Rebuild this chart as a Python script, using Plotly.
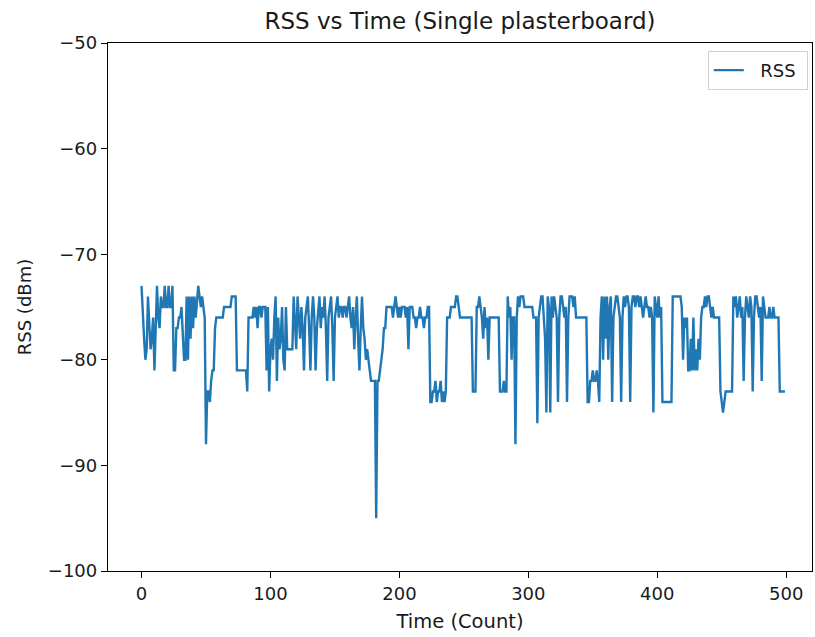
import plotly.graph_objects as go

rss = [
    -73, -76, -78, -80, -79, -74, -76, -79, -78, -76, -81, -76, -73, -76, -77, -74, -75, -75, -73, -75, -75, -73, -75, -75, -73,
    -81, -81, -77, -77, -76, -76, -75, -78, -80, -80, -74, -80, -74, -78, -74, -77, -74, -76, -74, -73, -74, -75, -74, -75, -76,
    -88, -83, -83, -84, -82, -81, -81, -77, -76, -76, -76, -76, -76, -76, -75, -75, -75, -75, -75, -75, -74, -74, -74, -74, -81,
    -81, -81, -81, -81, -81, -81, -81, -83, -76, -76, -76, -76, -75, -76, -75, -77, -75, -75, -76, -75, -75, -75, -81, -75, -83,
    -79, -78, -80, -76, -74, -82, -76, -79, -78, -75, -80, -81, -75, -79, -79, -79, -79, -79, -74, -76, -79, -74, -76, -78, -75,
    -77, -81, -76, -75, -74, -77, -81, -76, -74, -76, -81, -77, -75, -74, -77, -75, -76, -74, -77, -82, -76, -75, -74, -77, -82,
    -76, -75, -74, -76, -75, -75, -76, -75, -75, -76, -75, -74, -76, -77, -75, -79, -76, -74, -78, -81, -77, -74, -77, -78, -80,
    -79, -80, -81, -82, -82, -82, -82, -95, -82, -82, -81, -80, -79, -77, -77, -75, -75, -75, -75, -75, -76, -75, -74, -75, -76,
    -75, -76, -75, -75, -75, -76, -75, -79, -75, -75, -75, -76, -76, -77, -76, -76, -75, -76, -76, -77, -76, -76, -75, -75, -84,
    -84, -83, -83, -82, -84, -83, -83, -82, -84, -83, -84, -83, -76, -76, -76, -75, -75, -75, -75, -74, -74, -75, -76, -76, -76,
    -76, -76, -76, -76, -76, -76, -76, -83, -83, -83, -75, -75, -74, -75, -76, -78, -75, -77, -76, -80, -76, -76, -76, -76, -76,
    -76, -76, -76, -83, -83, -83, -82, -83, -83, -74, -76, -75, -80, -76, -76, -88, -76, -74, -75, -74, -74, -74, -75, -75, -75,
    -75, -75, -75, -75, -76, -76, -76, -86, -76, -75, -74, -74, -76, -78, -85, -74, -75, -85, -74, -76, -74, -75, -76, -84, -76,
    -74, -74, -75, -76, -75, -84, -76, -74, -74, -74, -75, -74, -76, -76, -76, -76, -76, -76, -76, -76, -76, -84, -84, -82, -82,
    -81, -82, -82, -81, -82, -84, -76, -74, -80, -74, -78, -74, -80, -75, -74, -84, -76, -75, -74, -74, -75, -76, -84, -76, -74,
    -75, -74, -74, -75, -84, -75, -74, -74, -75, -74, -74, -75, -74, -75, -76, -75, -74, -75, -75, -76, -75, -76, -85, -74, -75,
    -76, -74, -76, -75, -84, -84, -84, -84, -84, -84, -84, -84, -74, -74, -74, -74, -74, -74, -74, -75, -80, -76, -77, -76, -81,
    -81, -78, -81, -76, -81, -79, -81, -78, -80, -76, -75, -75, -74, -75, -74, -74, -75, -76, -75, -76, -76, -76, -76, -76, -83,
    -84, -85, -84, -83, -83, -83, -83, -83, -83, -74, -75, -74, -76, -75, -74, -76, -75, -82, -76, -74, -75, -76, -74, -75, -83,
    -76, -74, -74, -75, -76, -75, -82, -74, -75, -76, -76, -76, -75, -76, -76, -75, -76, -76, -76, -76, -83, -83, -83, -83, -83,
]
time_count = list(range(len(rss)))

x_ticks = [0, 100, 200, 300, 400, 500]
x_tick_labels = ["0", "100", "200", "300", "400", "500"]
y_ticks = [-100, -90, -80, -70, -60, -50]
y_tick_labels = ["\u2212100", "\u221290", "\u221280", "\u221270", "\u221260", "\u221250"]

FONT = "DejaVu Sans, Liberation Sans, sans-serif"

fig = go.Figure()
fig.add_trace(go.Scatter(
    x=time_count, y=rss, mode="lines", name="\u00a0\u00a0RSS\u00a0",
    line=dict(color="#1f77b4", width=2.4),
))

fig.update_layout(
    width=815, height=637,
    margin=dict(l=108, r=3, t=43, b=66),
    paper_bgcolor="white", plot_bgcolor="white",
    font=dict(family=FONT, size=18, color="#1a1a1a"),
    title=dict(text="RSS vs Time (Single plasterboard)", x=0.5, xref="paper",
               y=1 - 21 / 637, yref="container", yanchor="middle",
               font=dict(size=23, color="#1a1a1a")),
    showlegend=True,
    legend=dict(x=0.994, y=0.985, xanchor="right", yanchor="top",
                bordercolor="#d0d0d0", borderwidth=1, bgcolor="rgba(255,255,255,0.8)",
                font=dict(size=18)),
)
fig.update_xaxes(
    range=[-26, 520], tickvals=x_ticks, ticktext=x_tick_labels,
    showgrid=False, zeroline=False, showline=True, linecolor="black", linewidth=1.3,
    mirror=True, ticks="outside", ticklen=6, tickwidth=1.2, tickcolor="black",
    tickfont=dict(size=18),
    title=dict(text="Time (Count)", standoff=11, font=dict(size=19.5)),
)
fig.update_yaxes(
    range=[-100, -50], tickvals=y_ticks, ticktext=y_tick_labels,
    showgrid=False, zeroline=False, showline=True, linecolor="black", linewidth=1.3,
    mirror=True, ticks="outside", ticklen=6, tickwidth=1.2, tickcolor="black",
    tickfont=dict(size=18),
    title=dict(text="RSS (dBm)", standoff=11, font=dict(size=18)),
)

fig.write_html("out.html")
